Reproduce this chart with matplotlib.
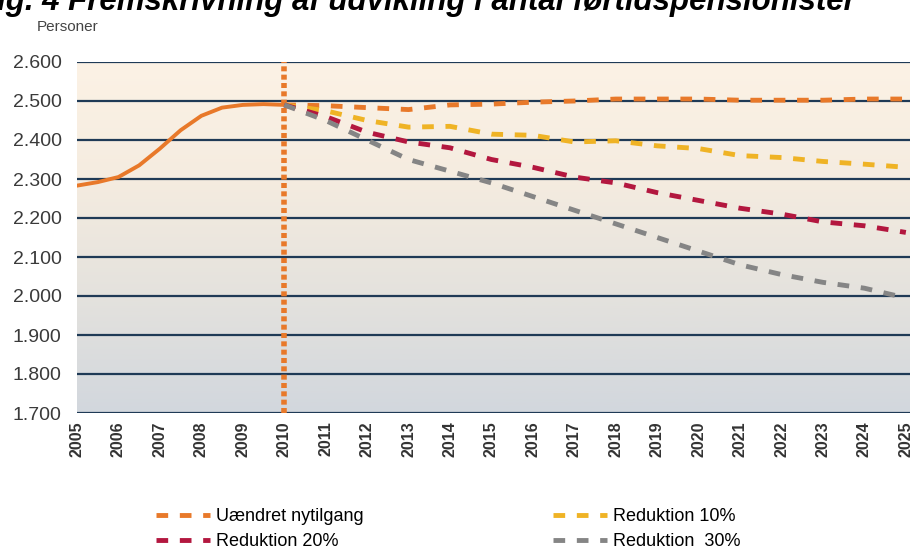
import matplotlib.pyplot as plt
import numpy as np
from matplotlib.colors import LinearSegmentedColormap
from matplotlib.ticker import FuncFormatter

# historical (read at half-year steps)
hist_years = [2005, 2005.5, 2006, 2006.5, 2007, 2007.5, 2008, 2008.5, 2009, 2009.5, 2010]
hist_vals = [2283, 2292, 2305, 2335, 2378, 2425, 2462, 2483, 2490, 2492, 2490]

proj_years = list(range(2010, 2026))
uaendret = [2490, 2488, 2483, 2478, 2490, 2492, 2497, 2500, 2505, 2505, 2505, 2502, 2502, 2502, 2505, 2505]
red10 = [2490, 2475, 2450, 2433, 2435, 2415, 2412, 2395, 2398, 2385, 2378, 2360, 2355, 2345, 2338, 2330]
red20 = [2490, 2460, 2420, 2395, 2380, 2350, 2330, 2305, 2290, 2265, 2245, 2225, 2210, 2190, 2180, 2163]
red30 = [2490, 2450, 2400, 2350, 2320, 2290, 2255, 2220, 2185, 2150, 2115, 2080, 2055, 2035, 2020, 1995]

labels = ['Uændret nytilgang', 'Reduktion 10%', 'Reduktion 20%', 'Reduktion  30%']
colors = ['#e8792a', '#efb325', '#b3173f', '#858585']
year_ticks = list(range(2005, 2026))
y_ticks = list(range(1700, 2601, 100))

plt.rcParams['font.family'] = ['Liberation Sans', 'DejaVu Sans']

fig = plt.figure(figsize=(9.18, 5.52), dpi=100)
ax = fig.add_axes([77/918, 1-413/552, 833/918, 351/552])

# background gradient
cmap = LinearSegmentedColormap.from_list('bg', ['#d2d7dd', '#e4e2dd', '#f5ece0', '#fcf2e5'])
grad = np.linspace(0, 1, 256).reshape(-1, 1)
ax.imshow(grad, aspect='auto', cmap=cmap, origin='lower',
          extent=[2005, 2025.1, 1700, 2600], zorder=0)

for v in y_ticks:
    ax.axhline(v, color='#1f3a56', lw=1.6, zorder=1)

ax.plot(hist_years, hist_vals, color='#e8792a', lw=2.8, zorder=4)
ax.plot([2010, 2010], [1700, 2600], color='#e8792a', lw=4, ls=(0, (0.9, 0.6)), zorder=3)

series = [uaendret, red10, red20, red30]
lines = []
for s, c, lab in zip(series, colors, labels):
    ln, = ax.plot(proj_years, s, color=c, lw=3.5, ls=(0, (2.4, 2.4)), label=lab, zorder=5)
    lines.append(ln)

ax.set_xlim(2005, 2025.1)
ax.set_ylim(1700, 2600)
for sp in ax.spines.values():
    sp.set_visible(False)
ax.set_xticks(year_ticks)
ax.set_xticklabels([str(y) for y in year_ticks], rotation=90, fontsize=11.5, fontweight='bold', color='#333333')
ax.set_yticks(y_ticks)
ax.yaxis.set_major_formatter(FuncFormatter(lambda v, p: f'{int(v):,}'.replace(',', '.')))
ax.tick_params(axis='y', labelsize=14, colors='#3a3a3a', length=0, pad=11)
ax.tick_params(axis='x', length=0, pad=6)

fig.text(37/918, 1-27/552, 'Personer', fontsize=11, color='#444444', va='center')
fig.text(-0.024, 1-10/552, 'Fig. 4 Fremskrivning af udvikling i antal førtidspensionister',
         fontsize=22.5, fontweight='bold', fontstyle='italic', color='black', va='baseline')

fig.legend([lines[0], lines[2], lines[1], lines[3]],
           [labels[0], labels[2], labels[1], labels[3]],
           loc='upper left', bbox_to_anchor=(140/918, 1-492/552), ncol=2, frameon=False,
           fontsize=13, handlelength=3.0, columnspacing=10.5, labelspacing=0.45, handletextpad=0.3)

fig.savefig('out.png', dpi=100)
